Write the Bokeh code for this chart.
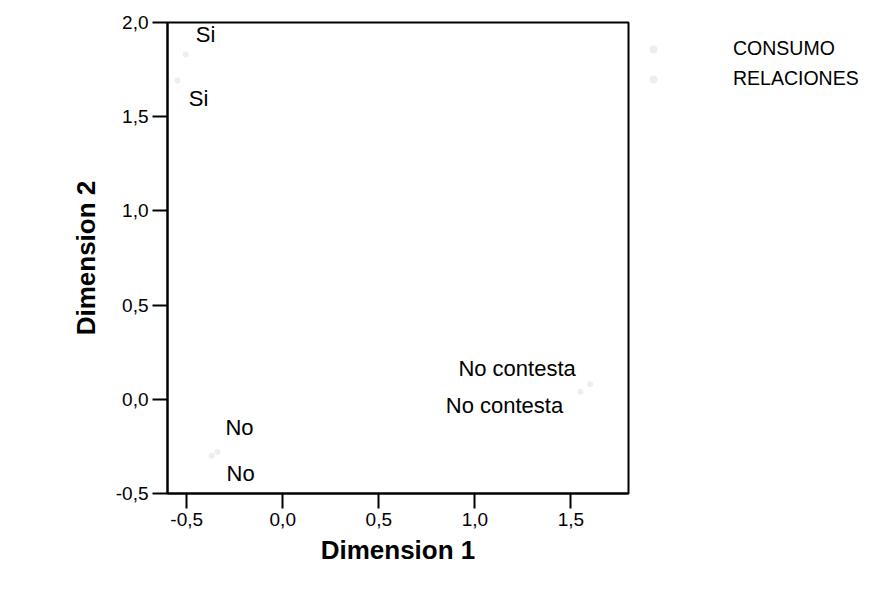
from bokeh.plotting import figure
from bokeh.models import (ColumnDataSource, FixedTicker, CustomJSTickFormatter,
                          Legend, LegendItem, Range1d)
from bokeh.core.properties import value
from bokeh.embed import file_html
from bokeh.resources import INLINE

# ---- data ----
categories = ["Si", "No", "No contesta"]
consumo_dim1 = [-0.506, -0.34, 1.60]
consumo_dim2 = [1.83, -0.28, 0.08]
relaciones_dim1 = [-0.548, -0.37, 1.55]
relaciones_dim2 = [1.692, -0.30, 0.04]
series_names = ["CONSUMO", "RELACIONES"]
x_ticks = [-0.5, 0.0, 0.5, 1.0, 1.5]
y_ticks = [-0.5, 0.0, 0.5, 1.0, 1.5, 2.0]

# ---- label offsets (style, pixels) ----
consumo_dx = [20, 22, -73]
consumo_dy = [-20, -25, -16]
relaciones_dx = [21, 29, -76]
relaciones_dy = [18, 18, 14]

FONT = "Liberation Sans"

p = figure(width=874, height=575, output_backend="svg", toolbar_location=None,
           x_range=Range1d(-0.6, 1.8), y_range=Range1d(-0.5, 2.0),
           frame_width=461, frame_height=471,
           min_border_left=167, min_border_right=246,
           min_border_top=22, min_border_bottom=82,
           x_axis_label="Dimension 1", y_axis_label="Dimension 2")
p.grid.visible = False
p.outline_line_color = "black"
p.outline_line_width = 2
p.background_fill_color = "white"
p.border_fill_color = "white"

fmt = CustomJSTickFormatter(code="return tick.toFixed(1).replace('.', ',');")
for ax, ticks in ((p.xaxis[0], x_ticks), (p.yaxis[0], y_ticks)):
    ax.ticker = FixedTicker(ticks=ticks)
    ax.formatter = fmt
    ax.minor_tick_line_color = None
    ax.major_tick_out = 15
    ax.major_tick_in = 0
    ax.major_tick_line_width = 2
    ax.axis_line_width = 2
    ax.major_label_text_font = FONT
    ax.major_label_text_font_size = "19px"
    ax.major_label_text_color = "black"
    ax.axis_label_text_font = FONT
    ax.axis_label_text_font_size = "26px"
    ax.axis_label_text_font_style = "bold"
    ax.axis_label_text_color = "black"
p.xaxis.major_label_standoff = 4
p.yaxis.major_label_standoff = 4
p.xaxis.axis_label_standoff = 6
p.yaxis.axis_label_standoff = 12

src_c = ColumnDataSource(dict(x=consumo_dim1, y=consumo_dim2, t=categories,
                              dx=consumo_dx, dy=consumo_dy))
src_r = ColumnDataSource(dict(x=relaciones_dim1, y=relaciones_dim2, t=categories,
                              dx=relaciones_dx, dy=relaciones_dy))

r_c = p.scatter("x", "y", source=src_c, size=6, marker="circle",
                fill_color="#e2e2e2", line_color=None, fill_alpha=0.6)
r_r = p.scatter("x", "y", source=src_r, size=6, marker="circle",
                fill_color="#e2e2e2", line_color=None, fill_alpha=0.6)

for src in (src_c, src_r):
    p.text("x", "y", text="t", source=src, x_offset="dx", y_offset="dy",
           text_font=value(FONT), text_font_size="22px", text_color="black",
           text_align="center", text_baseline="middle")

legend = Legend(items=[LegendItem(label=series_names[0], renderers=[r_c]),
                       LegendItem(label=series_names[1], renderers=[r_r])],
                location="top_left", margin=15, border_line_alpha=0,
                background_fill_alpha=0,
                label_text_font=FONT, label_text_font_size="19.5px",
                label_text_color="black", spacing=7, padding=0,
                glyph_width=20, glyph_height=20, label_height=20, label_standoff=70)
p.add_layout(legend, "right")

open("out.html", "w").write(file_html(p, INLINE))
